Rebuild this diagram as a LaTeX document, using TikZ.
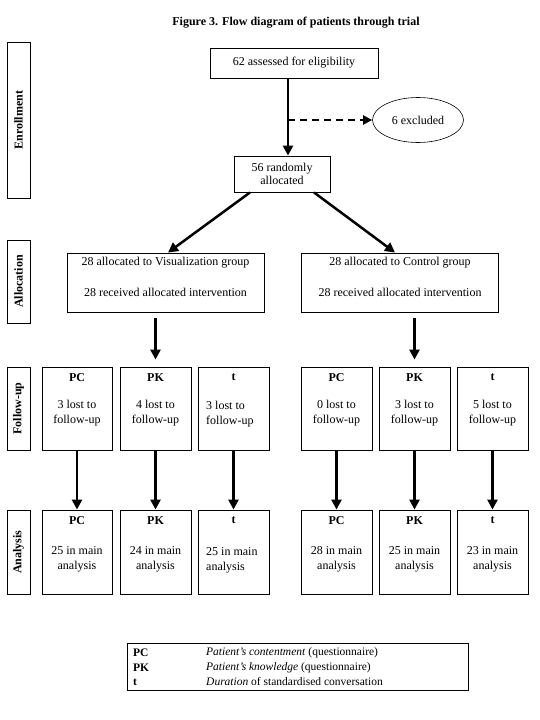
\documentclass[tikz,border=0pt]{standalone}
\usepackage{fontspec}
\setmainfont{Liberation Serif}
\usetikzlibrary{arrows.meta,shapes.geometric,fit,calc}
\begin{document}
\begin{tikzpicture}[x=1pt,y=-1pt,
  every node/.style={font=\fontsize{12}{14}\selectfont},
  box/.style={draw,line width=0.9pt,inner sep=0pt},
  sidebox/.style={draw,line width=0.9pt,inner sep=0pt},
  sidetext/.style={rotate=90,font=\fontsize{12}{14}\selectfont\bfseries},
  hdr/.style={font=\fontsize{12}{14}\selectfont\bfseries,inner sep=0pt},
  txt/.style={align=center,inner sep=0pt,font=\fontsize{12}{15}\selectfont},
  ltxt/.style={align=left,anchor=west,inner sep=0pt,font=\fontsize{12}{15}\selectfont},
  arr/.style={line width=2.5pt,-{Triangle[length=10pt,width=10pt]}},
  darr/.style={line width=2pt,dash pattern=on 7pt off 5pt,-{Triangle[length=9pt,width=9pt]}},
  legtext/.style={anchor=west,inner sep=0pt,font=\fontsize{11.5}{14}\selectfont},
  legbold/.style={anchor=west,inner sep=0pt,font=\fontsize{11.5}{14}\selectfont\bfseries}
]
\useasboundingbox (0,0) rectangle (540,720);

% title
\node[font=\fontsize{12}{14}\selectfont\bfseries] (title) at (296,23) {Figure 3. Flow diagram of patients through trial};

% side boxes
\node[sidebox,fit={(7,42) (30,198)}] (sEnr) {};
\node[sidetext] (tEnr) at (sEnr.center) {Enrollment};
\node[sidebox,fit={(7,240) (30,323)}] (sAll) {};
\node[sidetext] (tAll) at (sAll.center) {Allocation};
\node[sidebox,fit={(7,367) (30,450)}] (sFol) {};
\node[sidetext] (tFol) at (sFol.center) {Follow-up};
\node[sidebox,fit={(7,510) (30,594)}] (sAna) {};
\node[sidetext] (tAna) at (sAna.center) {Analysis};

% enrollment
\node[box,fit={(210,48) (378,78)}] (e62) {};
\node[txt] (te62) at (e62.center) {62 assessed for eligibility};
\node[draw,line width=0.6pt,ellipse,minimum width=91pt,minimum height=45pt,inner sep=0pt] (excl) at (418,120) {6 excluded};
\node[box,fit={(234,156) (330,192)}] (r56) {};
\node[txt,font=\fontsize{12}{13}\selectfont] (tr56) at (r56.center) {56 randomly\\allocated};

\coordinate (m) at (288,120);
\draw[arr] (e62.south -| m) -- (r56.north -| m);
\draw[darr] (m) -- (excl.west);

% allocation
\node[box,fit={(67,253) (264,312)}] (aL) {};
\node[txt] (aL1) at (165.5,263) {28 allocated to Visualization group};
\node[txt] (aL2) at (165.5,292) {28 received allocated intervention};
\node[box,fit={(301,253) (498,312)}] (aR) {};
\node[txt] (aR1) at (400,263) {28 allocated to Control group};
\node[txt] (aR2) at (400,292) {28 received allocated intervention};

\coordinate (dl1) at (250,192);
\coordinate (dl2) at (168,253);
\coordinate (dr1) at (314,192);
\coordinate (dr2) at (395,253);
\draw[arr] (r56.south -| dl1) -- (aL.north -| dl2);
\draw[arr] (r56.south -| dr1) -- (aR.north -| dr2);

% follow-up and analysis
\foreach \n/\xa/\xb/\h/\fl/\al in {
  L1/42/112/PC/3/25,
  L2/120/191/PK/4/24,
  R1/301/372/PC/0/28,
  R2/379/450/PK/3/25,
  R3/457/528/t/5/23}{
  \node[box,fit={(\xa,367) (\xb,450)}] (f\n) {};
  \node[hdr] (fh\n) at ($(f\n.north)+(0,11)$) {\h};
  \node[txt] (ft\n) at ($(f\n.north)+(0,47)$) {\fl{} lost to\\follow-up};
  \node[box,fit={(\xa,510) (\xb,594)}] (a\n) {};
  \node[hdr] (ah\n) at ($(a\n.north)+(0,11)$) {\h};
  \node[txt] (at\n) at ($(a\n.north)+(0,50)$) {\al{} in main\\analysis};
  \draw[arr] (f\n.south) -- (a\n.north);
}
% left third column (left aligned text)
\node[box,fit={(198,367) (269,450)}] (fL3) {};
\node[hdr] (fhL3) at ($(fL3.north)+(0,11)$) {t};
\node[ltxt] (ftL3) at (206,414) {3 lost to\\follow-up};
\node[box,fit={(198,510) (269,594)}] (aL3) {};
\node[hdr] (ahL3) at ($(aL3.north)+(0,11)$) {t};
\node[ltxt] (atL3) at (206,560) {25 in main\\analysis};
\draw[arr] (fL3.south) -- (aL3.north);

% allocation to follow-up
\draw[arr,shorten <=6pt,shorten >=7pt] (aL.south -| fL2) -- (fL2.north);
\draw[arr,shorten <=6pt,shorten >=7pt] (aR.south -| fR2) -- (fR2.north);

% legend
\node[draw,line width=0.6pt,inner sep=0pt,fit={(127,643) (468,690)}] (leg) {};
\node[legbold] (lPC) at (133,653) {PC};
\node[legbold] (lPK) at (133,667.5) {PK};
\node[legbold] (lt) at (133,682) {t};
\node[legtext] (dPC) at (206,653) {\textit{Patient's contentment} (questionnaire)};
\node[legtext] (dPK) at (206,667.5) {\textit{Patient's knowledge} (questionnaire)};
\node[legtext] (dt) at (206,682) {\textit{Duration} of standardised conversation};
\end{tikzpicture}
\end{document}
